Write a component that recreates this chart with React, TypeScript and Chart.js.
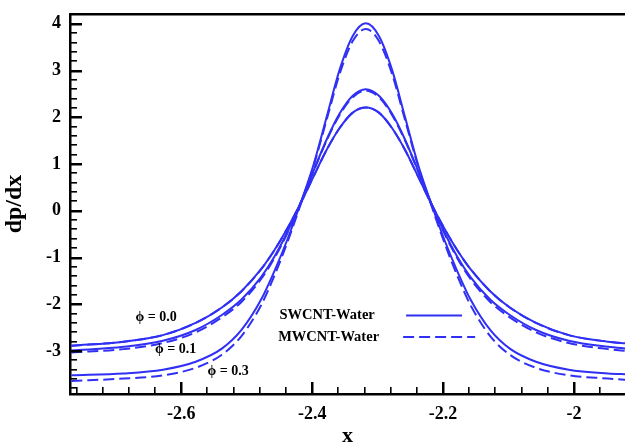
import { useEffect, useRef } from 'react';
import { Chart, registerables } from 'chart.js';

Chart.register(...registerables);

// x positions of the samples
const xValues = [
  -2.768, -2.688, -2.628, -2.578, -2.538, -2.508, -2.478, -2.458, -2.438, -2.418,
  -2.398, -2.378, -2.358, -2.338, -2.318, -2.298, -2.278, -2.258, -2.238, -2.218,
  -2.198, -2.178, -2.158, -2.128, -2.098, -2.058, -2.008, -1.948, -1.918,
];

// phi = 0.0 (SWCNT and MWCNT coincide)
const phi00Sw = [
  -2.89, -2.80, -2.66, -2.40, -2.07, -1.72, -1.25, -0.85, -0.38, 0.15,
  0.73, 1.30, 1.77, 2.10, 2.21, 2.10, 1.77, 1.30, 0.73, 0.15,
  -0.38, -0.85, -1.25, -1.72, -2.07, -2.40, -2.66, -2.80, -2.84,
];
const phi00Mw = [
  -2.89, -2.80, -2.66, -2.40, -2.07, -1.72, -1.25, -0.85, -0.38, 0.15,
  0.73, 1.30, 1.77, 2.10, 2.21, 2.10, 1.77, 1.30, 0.73, 0.15,
  -0.38, -0.85, -1.25, -1.72, -2.07, -2.40, -2.66, -2.80, -2.84,
];
// phi = 0.1
const phi01Sw = [
  -2.99, -2.91, -2.78, -2.55, -2.23, -1.90, -1.42, -0.99, -0.46, 0.16,
  0.85, 1.52, 2.08, 2.46, 2.60, 2.46, 2.08, 1.52, 0.85, 0.16,
  -0.46, -0.99, -1.42, -1.90, -2.23, -2.55, -2.78, -2.91, -2.95,
];
const phi01Mw = [
  -3.03, -2.96, -2.83, -2.60, -2.28, -1.95, -1.46, -1.02, -0.48, 0.15,
  0.84, 1.50, 2.05, 2.43, 2.57, 2.43, 2.05, 1.50, 0.84, 0.15,
  -0.48, -1.02, -1.46, -1.95, -2.28, -2.60, -2.83, -2.96, -3.00,
];
// phi = 0.3
const phi03Sw = [
  -3.52, -3.48, -3.40, -3.23, -2.95, -2.55, -1.90, -1.30, -0.62, 0.15,
  0.98, 2.00, 3.02, 3.74, 4.01, 3.74, 3.02, 2.00, 0.98, 0.15,
  -0.62, -1.30, -1.90, -2.55, -2.95, -3.23, -3.40, -3.48, -3.50,
];
const phi03Mw = [
  -3.64, -3.59, -3.52, -3.36, -3.08, -2.68, -2.02, -1.40, -0.68, 0.12,
  0.95, 1.94, 2.93, 3.63, 3.89, 3.63, 2.93, 1.94, 0.95, 0.12,
  -0.68, -1.40, -2.02, -2.68, -3.08, -3.36, -3.52, -3.59, -3.62,
];

const xTicks = [-2.6, -2.4, -2.2, -2];
const yTicks = [-3, -2, -1, 0, 1, 2, 3, 4];
const seriesNames = ['SWCNT-Water', 'MWCNT-Water'];
const phiLabels = ['ϕ = 0.0', 'ϕ = 0.1', 'ϕ = 0.3'];

const X_MIN = -2.77;
const X_MAX = -1.922;
const Y_MIN = -3.92;
const Y_MAX = 4.21;
const X_MINOR_START = -2.76;
const X_MINOR_STEP = 0.04;
const Y_MINOR_START = -3.8;
const Y_MINOR_STEP = 0.2;

const BLUE = 'rgb(48,48,245)';
const DASH = [11, 5];
const SERIF = '"Liberation Serif", "Times New Roman", serif';

const CANVAS_W = 625;
const CANVAS_H = 460;
const PLOT_BOTTOM = 394;

export default function App() {
  const ref = useRef<HTMLCanvasElement | null>(null);

  useEffect(() => {
    const canvas = ref.current;
    if (!canvas) return;

    const mk = (arr: number[]) => xValues.map((x, i) => ({ x, y: arr[i] }));
    const ds = (label: string, arr: number[], dashed: boolean) => ({
      label,
      data: mk(arr),
      borderColor: BLUE,
      backgroundColor: BLUE,
      borderWidth: 2,
      borderDash: dashed ? DASH : [],
      pointRadius: 0,
      cubicInterpolationMode: 'monotone' as const,
      fill: false,
    });

    const tickPlugin = {
      id: 'innerTicks',
      afterDatasetsDraw(chart: any) {
        const ctx: CanvasRenderingContext2D = chart.ctx;
        const area = chart.chartArea;
        const xs = chart.scales.x;
        const ys = chart.scales.y;
        ctx.save();
        ctx.setLineDash([]);
        ctx.fillStyle = 'rgb(0,0,0)';
        ctx.fillRect(area.left - 1, area.top - 1, area.right - area.left + 3, 2.5);
        for (let i = 0; i <= 25; i++) {
          const v = X_MINOR_START + i * X_MINOR_STEP;
          if (v > X_MAX) break;
          const px = Math.round(xs.getPixelForValue(v));
          const major = xTicks.some((t) => Math.abs(t - v) < 1e-6);
          if (major) ctx.fillRect(px - 1, area.bottom - 12, 2.5, 12);
          else ctx.fillRect(px - 1, area.bottom - 7, 1.6, 7);
        }
        for (let i = 0; i <= 45; i++) {
          const v = Y_MINOR_START + i * Y_MINOR_STEP;
          if (v > Y_MAX) break;
          const py = Math.round(ys.getPixelForValue(v));
          const major = yTicks.some((t) => Math.abs(t - v) < 1e-6);
          if (major) ctx.fillRect(area.left, py - 1, 12, 2.5);
          else ctx.fillRect(area.left, py - 1, 7, 1.6);
        }
        ctx.restore();
      },
    };

    const labelPlugin = {
      id: 'labelsLegend',
      afterDraw(chart: any) {
        const ctx: CanvasRenderingContext2D = chart.ctx;
        const xs = chart.scales.x;
        const ys = chart.scales.y;
        ctx.save();
        ctx.fillStyle = '#000000';
        ctx.textBaseline = 'middle';
        ctx.textAlign = 'left';
        ctx.font = `bold 14.5px ${SERIF}`;
        ctx.fillText(seriesNames[0], xs.getPixelForValue(-2.450), ys.getPixelForValue(-2.24));
        ctx.fillText(seriesNames[1], xs.getPixelForValue(-2.452), ys.getPixelForValue(-2.70));
        ctx.strokeStyle = BLUE;
        ctx.lineWidth = 2;
        ctx.setLineDash([]);
        ctx.beginPath();
        ctx.moveTo(xs.getPixelForValue(-2.2565), ys.getPixelForValue(-2.24));
        ctx.lineTo(xs.getPixelForValue(-2.171), ys.getPixelForValue(-2.24));
        ctx.stroke();
        ctx.setLineDash(DASH);
        ctx.beginPath();
        ctx.moveTo(xs.getPixelForValue(-2.261), ys.getPixelForValue(-2.70));
        ctx.lineTo(xs.getPixelForValue(-2.151), ys.getPixelForValue(-2.70));
        ctx.stroke();
        ctx.setLineDash([]);
        ctx.font = `bold 14px ${SERIF}`;
        ctx.fillText(phiLabels[0], xs.getPixelForValue(-2.670), ys.getPixelForValue(-2.29));
        ctx.fillText(phiLabels[1], xs.getPixelForValue(-2.640), ys.getPixelForValue(-2.97));
        ctx.fillText(phiLabels[2], xs.getPixelForValue(-2.560), ys.getPixelForValue(-3.43));
        ctx.restore();
      },
    };

    const chart = new Chart(canvas, {
      type: 'line',
      data: {
        datasets: [
          ds(seriesNames[0] + ' 0.0', phi00Sw, false),
          ds(seriesNames[1] + ' 0.0', phi00Mw, true),
          ds(seriesNames[0] + ' 0.1', phi01Sw, false),
          ds(seriesNames[1] + ' 0.1', phi01Mw, true),
          ds(seriesNames[0] + ' 0.3', phi03Sw, false),
          ds(seriesNames[1] + ' 0.3', phi03Mw, true),
        ],
      },
      options: {
        responsive: false,
        animation: false,
        events: [],
        layout: { padding: { top: 14, left: 0, right: 0, bottom: 0 } },
        plugins: { legend: { display: false }, tooltip: { enabled: false } },
        scales: {
          x: {
            type: 'linear',
            min: X_MIN,
            max: X_MAX,
            afterBuildTicks: (s: any) => {
              s.ticks = xTicks.map((v) => ({ value: v }));
            },
            afterFit: (s: any) => {
              s.height = CANVAS_H - PLOT_BOTTOM;
              s.paddingLeft = 0;
              s.paddingRight = 0;
            },
            grid: { display: false, drawTicks: false },
            border: { display: true, color: '#000', width: 2.5 },
            ticks: {
              color: '#000',
              padding: 10,
              maxRotation: 0,
              autoSkip: false,
              font: { family: SERIF, size: 18, weight: 'bold' },
              callback: (v: any) => String(Number(v)),
            },
            title: {
              display: true,
              text: 'x',
              color: '#000',
              font: { family: SERIF, size: 22, weight: 'bold' },
              padding: { top: 0, bottom: 10 },
            },
          },
          y: {
            type: 'linear',
            min: Y_MIN,
            max: Y_MAX,
            afterBuildTicks: (s: any) => {
              s.ticks = yTicks.map((v) => ({ value: v }));
            },
            afterFit: (s: any) => {
              s.width = 70;
              s.paddingTop = 0;
              s.paddingBottom = 0;
            },
            grid: { display: false, drawTicks: false },
            border: { display: true, color: '#000', width: 2.5 },
            ticks: {
              color: '#000',
              padding: 9,
              autoSkip: false,
              font: { family: SERIF, size: 18, weight: 'bold' },
              callback: (v: any) => String(Number(v)),
            },
            title: {
              display: true,
              text: 'dp/dx',
              color: '#000',
              font: { family: SERIF, size: 24, weight: 'bold' },
              padding: { top: 0, bottom: 0 },
            },
          },
        },
      },
      plugins: [tickPlugin, labelPlugin],
    } as any);

    return () => chart.destroy();
  }, []);

  return (
    <div
      style={{
        position: 'fixed',
        left: 0,
        top: 0,
        width: 625,
        height: 442,
        overflow: 'hidden',
        background: '#fff',
      }}
    >
      <canvas ref={ref} width={CANVAS_W} height={CANVAS_H} style={{ display: 'block' }} />
    </div>
  );
}
